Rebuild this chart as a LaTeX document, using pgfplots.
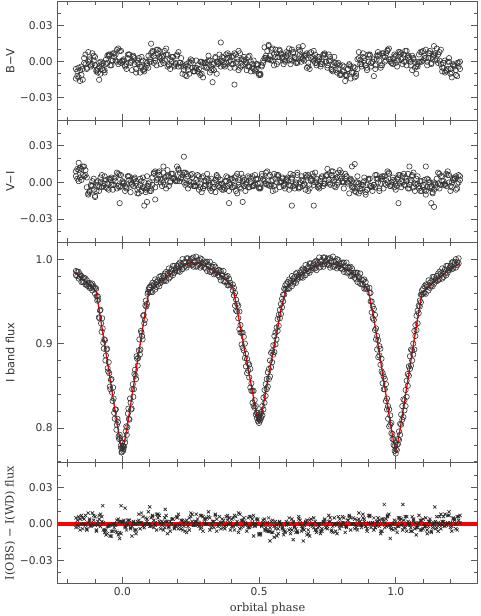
\documentclass[border=0pt]{standalone}
\usepackage{fontspec}
\setmainfont{DejaVu Sans}
\newfontfamily\serif{DejaVu Serif}
\usepackage{pgfplots}
\usepackage{pgfplotstable}
\pgfplotsset{compat=1.18}

% colour indices in units of 0.001 mag
\pgfplotstableread{
x xb a b c d
-0.17 -0.165 -6 -14 -8 -12
-0.16 -0.155 -13 -5 -16 -7
-0.15 -0.145 -4 -11 -6 -15
-0.14 -0.135 -1 3 -2 6
-0.13 -0.125 -5 -6 8 0
-0.12 -0.115 2 1 -4 -3
-0.11 -0.105 -2 7 1 5
-0.10 -0.095 4 -3 -7 -8
-0.09 -0.085 -9 -6 -1 -4
-0.08 -0.075 0 -10 -6 -2
-0.07 -0.065 -7 -1 -9 -7
-0.06 -0.055 -2 2 5 -1
-0.05 -0.045 5 6 -3 6
-0.04 -0.035 1 -3 7 1
-0.03 -0.025 7 4 1 6
-0.02 -0.015 0 10 11 -2
-0.01 -0.005 9 0 -1 9
0.00 0.005 0 1 2 1
0.01 0.015 -4 -3 -6 -2
0.02 0.025 3 6 6 6
0.03 0.035 -1 0 1 -7
0.04 0.045 5 4 -2 3
0.05 0.055 -6 -9 -1 1
0.06 0.065 3 -2 -9 -4
0.07 0.075 -4 4 1 -7
0.08 0.085 -8 -6 -5 0
0.09 0.095 -1 -3 5 -5
0.10 0.105 2 0 0 7
0.11 0.115 8 9 5 -1
0.12 0.125 1 3 -3 10
0.13 0.135 10 7 9 4
0.14 0.145 3 -2 4 1
0.15 0.155 -1 5 1 9
0.16 0.165 6 11 6 -4
0.17 0.175 -2 -3 -6 2
0.18 0.185 4 0 4 4
0.19 0.195 -3 -4 -2 -1
0.20 0.205 6 5 8 -4
0.21 0.215 -1 -1 -4 3
0.22 0.225 -10 -2 -4 -7
0.23 0.235 -3 -11 -12 -2
0.24 0.245 -7 -4 0 -10
0.25 0.255 -1 2 -5 1
0.26 0.265 -8 -8 -8 -5
0.27 0.275 1 -5 -3 -8
0.28 0.285 -6 -9 -11 0
0.29 0.295 -10 0 -1 -13
0.30 0.305 -1 -4 -5 -1
0.31 0.315 -5 0 5 1
0.32 0.325 1 -9 -7 -4
0.33 0.335 -6 -2 -2 -7
0.34 0.345 3 4 -10 0
0.35 0.355 0 -2 6 -1
0.36 0.365 -4 1 1 4
0.37 0.375 3 -3 -2 -4
0.38 0.385 -1 6 3 7
0.39 0.395 5 0 -5 1
0.40 0.405 -2 4 5 -2
0.41 0.415 7 -5 -1 6
0.42 0.425 0 2 9 -7
0.43 0.435 -5 7 -4 2
0.44 0.445 2 -3 1 4
0.45 0.455 -2 0 -7 -1
0.46 0.465 4 -4 5 -4
0.47 0.475 -8 0 -5 -2
0.48 0.485 1 -6 -8 -7
0.49 0.495 -6 -2 -3 -2
0.50 0.505 -10 -11 -11 -10
0.51 0.515 -3 -4 -1 1
0.52 0.525 3 12 3 5
0.53 0.535 9 2 13 2
0.54 0.545 2 5 1 10
0.55 0.555 11 1 6 -3
0.56 0.565 4 10 -2 7
0.57 0.575 0 4 10 9
0.58 0.585 6 7 4 3
0.59 0.595 2 -2 1 0
0.60 0.605 8 5 6 7
0.61 0.615 1 11 -2 2
0.62 0.625 10 1 8 7
0.63 0.635 3 4 2 -1
0.64 0.645 -1 0 12 10
0.65 0.655 6 9 0 4
0.66 0.665 2 3 5 1
0.67 0.675 6 5 -5 7
0.68 0.685 -1 -4 7 -6
0.69 0.695 8 3 2 4
0.70 0.705 1 9 -1 6
0.71 0.715 -3 -1 4 1
0.72 0.725 4 2 -4 -2
0.73 0.735 0 -2 6 5
0.74 0.745 6 7 0 0
0.75 0.755 -5 -3 6 1
0.76 0.765 4 1 -6 -7
0.77 0.775 -3 -8 -1 4
0.78 0.785 -7 -1 -9 -2
0.79 0.795 -6 -1 -3 -11
0.80 0.805 -10 -11 -8 -3
0.81 0.815 -4 -8 -11 -16
0.82 0.825 -11 -12 -6 -6
0.83 0.835 -2 -3 -14 -4
0.84 0.845 -9 -9 -4 -9
0.85 0.855 -13 -5 -10 -12
0.86 0.865 2 -6 8 3
0.87 0.875 -2 1 -4 -2
0.88 0.885 4 7 1 3
0.89 0.895 -3 -3 -7 -5
0.90 0.905 6 0 5 6
0.91 0.915 -1 -4 0 0
0.92 0.925 -12 2 -6 -3
0.93 0.935 5 2 5 8
0.94 0.945 1 6 -3 -5
0.95 0.955 7 -3 7 5
0.96 0.965 0 4 1 7
0.97 0.975 9 10 11 2
0.98 0.985 2 0 -1 -1
0.99 0.995 -2 3 4 6
1.00 1.005 5 -1 -4 1
1.01 1.015 1 8 8 6
1.02 1.025 7 2 3 -2
1.03 1.035 0 6 0 9
1.04 1.045 9 -3 5 3
1.05 1.055 2 4 -3 0
1.06 1.065 -7 5 2 3
1.07 1.075 0 -5 -4 -10
1.08 1.085 -4 -2 6 0
1.09 1.095 8 0 0 8
1.10 1.105 1 9 5 3
1.11 1.115 10 3 -3 0
1.12 1.125 3 7 9 7
1.13 1.135 -1 -2 4 2
1.14 1.145 6 5 1 7
1.15 1.155 2 11 6 -1
1.16 1.165 8 1 -2 10
1.17 1.175 -8 -5 -1 -5
1.18 1.185 1 -9 -7 -8
1.19 1.195 -6 0 3 0
1.20 1.205 -10 -6 -9 -13
1.21 1.215 -3 -2 -4 -3
1.22 1.225 -7 -11 -12 -1
1.23 1.235 -1 -4 0 -6
}\bv

\pgfplotstableread{
x xb a b c d
-0.17 -0.165 5 9 3 11
-0.16 -0.155 10 1 12 4
-0.15 -0.145 2 11 6 13
-0.14 -0.135 13 5 10 6
-0.13 -0.125 -4 4 -10 -9
-0.12 -0.115 -7 -8 -3 -2
-0.11 -0.105 1 -3 3 -6
-0.10 -0.095 -12 -11 -7 0
-0.09 -0.085 -2 1 -4 -7
-0.08 -0.075 4 0 -4 6
-0.07 -0.065 -1 -3 5 -1
-0.06 -0.055 -4 2 -1 -5
-0.05 -0.045 3 -6 3 2
-0.04 -0.035 -2 4 -6 -2
-0.03 -0.025 3 -2 1 4
-0.02 -0.015 -5 8 7 -3
-0.01 -0.005 6 -4 -3 6
0.00 0.005 0 1 0 -1
0.01 0.015 -3 -7 -4 -5
0.02 0.025 5 5 5 2
0.03 0.035 -8 0 -1 -2
0.04 0.045 2 -3 3 4
0.05 0.055 1 -1 -9 -6
0.06 0.065 -4 -9 -2 3
0.07 0.075 -7 1 4 -4
0.08 0.085 0 -5 -6 -8
0.09 0.095 -5 5 -3 -1
0.10 0.105 0 -7 -7 -5
0.11 0.115 -2 4 8 7
0.12 0.125 9 -4 2 0
0.13 0.135 3 8 6 9
0.14 0.145 0 3 -3 2
0.15 0.155 8 0 4 -2
0.16 0.165 -5 5 10 5
0.17 0.175 5 -3 0 1
0.18 0.185 7 7 3 7
0.19 0.195 4 3 1 2
0.20 0.205 1 13 10 11
0.21 0.215 8 1 4 4
0.22 0.225 3 6 8 0
0.23 0.235 8 -2 -1 7
0.24 0.245 -5 5 1 -2
0.25 0.255 6 0 7 4
0.26 0.265 0 -3 -3 -3
0.27 0.275 -3 2 0 6
0.28 0.285 5 -6 -4 -1
0.29 0.295 -8 4 5 -5
0.30 0.305 1 -3 -2 1
0.31 0.315 3 7 2 -3
0.32 0.325 -2 -5 -7 3
0.33 0.335 -5 0 0 -4
0.34 0.345 2 -8 6 5
0.35 0.355 -3 4 -4 -2
0.36 0.365 2 -1 -1 -6
0.37 0.375 -6 -4 -5 1
0.38 0.385 5 1 4 -3
0.39 0.395 -1 -7 -2 3
0.40 0.405 -4 3 2 -4
0.41 0.415 4 -3 -7 5
0.42 0.425 -9 7 0 -2
0.43 0.435 2 -4 7 -5
0.44 0.445 4 1 -3 2
0.45 0.455 -1 -7 0 -2
0.46 0.465 -4 5 -4 4
0.47 0.475 3 0 5 -3
0.48 0.485 -2 -3 -1 6
0.49 0.495 3 2 3 -1
0.50 0.505 -4 -5 -5 -4
0.51 0.515 7 5 2 3
0.52 0.525 1 -1 8 -1
0.53 0.535 -2 9 -2 5
0.54 0.545 6 -3 1 -2
0.55 0.555 -7 2 -3 7
0.56 0.565 3 -6 6 0
0.57 0.575 5 6 0 -4
0.58 0.585 0 1 4 3
0.59 0.595 -3 -2 -5 -1
0.60 0.605 3 2 1 4
0.61 0.615 -2 -6 7 -3
0.62 0.625 3 4 -3 6
0.63 0.635 -5 -2 0 -1
0.64 0.645 6 8 -4 -5
0.65 0.655 0 -4 5 2
0.66 0.665 -3 1 -1 -2
0.67 0.675 6 -6 4 5
0.68 0.685 -7 6 -5 -2
0.69 0.695 3 1 2 7
0.70 0.705 5 -2 8 0
0.71 0.715 0 3 -2 -4
0.72 0.725 -3 -5 1 3
0.73 0.735 4 5 -3 -1
0.74 0.745 -1 -1 6 5
0.75 0.755 6 11 2 0
0.76 0.765 -2 -1 6 9
0.77 0.775 9 4 -3 2
0.78 0.785 3 -4 4 -2
0.79 0.795 0 8 10 5
0.80 0.805 8 3 0 1
0.81 0.815 -5 0 3 7
0.82 0.825 5 5 -1 0
0.83 0.835 1 -9 2 3
0.84 0.845 -4 1 -4 -4
0.85 0.855 -7 -5 0 -8
0.86 0.865 0 5 -9 -1
0.87 0.875 -5 -7 -2 -5
0.88 0.885 0 -2 4 1
0.89 0.895 -8 -10 -6 -6
0.90 0.905 3 2 -3 3
0.91 0.915 -3 -3 -7 -4
0.92 0.925 -2 -2 6 -4
0.93 0.935 6 3 0 3
0.94 0.945 -7 -5 4 -1
0.95 0.955 3 5 -5 5
0.96 0.965 5 -1 2 -2
0.97 0.975 0 9 8 7
0.98 0.985 -3 -3 -2 0
0.99 0.995 4 2 1 -4
1.00 1.005 -1 -6 -3 3
1.01 1.015 4 6 6 -1
1.02 1.025 -4 1 0 5
1.03 1.035 7 -2 4 -2
1.04 1.045 1 3 -5 7
1.05 1.055 -2 -5 2 0
1.06 1.065 6 5 8 -4
1.07 1.075 -7 -1 -2 3
1.08 1.085 -1 5 -3 -5
1.09 1.095 1 -7 -7 1
1.10 1.105 -4 -2 2 -6
1.11 1.115 -7 -10 -4 3
1.12 1.125 0 2 0 -4
1.13 1.135 -5 -3 -9 -8
1.14 1.145 0 -6 -2 -1
1.15 1.155 -4 3 8 -1
1.16 1.165 7 -5 -2 5
1.17 1.175 1 5 1 -2
1.18 1.185 -2 -1 -3 7
1.19 1.195 6 9 6 0
1.20 1.205 -7 -3 0 -4
1.21 1.215 3 2 4 3
1.22 1.225 5 -6 -5 -1
1.23 1.235 0 6 2 5
}\vi

\pgfplotstableread{
x xb a b c d
-0.17 -0.165 -3 5 -1 3
-0.16 -0.155 6 -2 4 -5
-0.15 -0.145 0 7 -4 5
-0.14 -0.135 4 0 7 -1
-0.13 -0.125 -5 -4 1 9
-0.12 -0.115 3 4 -1 -2
-0.11 -0.105 9 0 7 3
-0.10 -0.095 -1 6 -6 -5
-0.09 -0.085 2 -1 4 7
-0.08 -0.075 -2 8 6 2
-0.07 -0.065 1 -5 -5 -7
-0.06 -0.055 -5 -9 -8 -2
-0.05 -0.045 -1 -2 -1 -10
-0.04 -0.035 -10 -6 -6 0
-0.03 -0.025 -3 0 -1 -6
-0.02 -0.015 3 -7 -9 4
-0.01 -0.005 -7 2 2 -8
0.00 0.005 2 1 2 3
0.01 0.015 -2 -3 -1 -5
0.02 0.025 3 0 3 3
0.03 0.035 -3 -4 -10 -2
0.04 0.045 1 2 0 -5
0.05 0.055 -8 -5 2 0
0.06 0.065 3 8 1 -4
0.07 0.075 9 1 -2 6
0.08 0.085 -1 -3 5 0
0.09 0.095 2 4 0 10
0.10 0.105 -2 0 5 -2
0.11 0.115 7 6 -3 3
0.12 0.125 1 -1 8 -5
0.13 0.135 5 8 2 7
0.14 0.145 -4 1 -1 2
0.15 0.155 1 -5 5 -3
0.16 0.165 7 2 -8 2
0.17 0.175 -3 -2 2 -6
0.18 0.185 0 4 4 4
0.19 0.195 -4 -3 -1 -2
0.20 0.205 5 6 -4 8
0.21 0.215 -1 -1 3 -4
0.22 0.225 3 -5 -2 1
0.23 0.235 -6 2 3 -7
0.24 0.245 1 -2 -5 5
0.25 0.255 9 6 8 2
0.26 0.265 -1 -1 2 -1
0.27 0.275 2 8 -1 4
0.28 0.285 -2 1 7 -4
0.29 0.295 7 -3 -6 6
0.30 0.305 1 4 4 0
0.31 0.315 5 0 6 10
0.32 0.325 -5 5 0 -3
0.33 0.335 2 -2 -3 2
0.34 0.345 8 7 4 -6
0.35 0.355 -2 0 -1 6
0.36 0.365 1 -4 4 1
0.37 0.375 -3 3 -4 -2
0.38 0.385 6 -1 7 3
0.39 0.395 0 5 1 -5
0.40 0.405 4 -2 -2 5
0.41 0.415 -5 7 6 -1
0.42 0.425 2 0 -7 9
0.43 0.435 8 -4 3 -3
0.44 0.445 -2 3 5 2
0.45 0.455 1 -1 0 -6
0.46 0.465 -3 5 -3 6
0.47 0.475 6 -2 4 1
0.48 0.485 0 7 -1 -2
0.49 0.495 4 0 4 3
0.50 0.505 -9 -8 -8 -9
0.51 0.515 -2 -1 3 1
0.52 0.525 4 -5 -3 -5
0.53 0.535 -6 1 -6 5
0.54 0.545 -3 -6 2 -7
0.55 0.555 -7 3 -11 -2
0.56 0.565 2 -4 -1 -10
0.57 0.575 -4 -8 1 2
0.58 0.585 0 -1 -4 -3
0.59 0.595 -9 -5 -7 -6
0.60 0.605 -1 2 1 0
0.61 0.615 5 -5 -4 -8
0.62 0.625 -5 4 1 2
0.63 0.635 -2 -3 -7 -4
0.64 0.645 -6 -7 4 6
0.65 0.655 3 0 -2 -6
0.66 0.665 -3 -4 -5 -1
0.67 0.675 1 2 3 -9
0.68 0.685 -8 -5 -10 3
0.69 0.695 -1 4 0 -2
0.70 0.705 5 -3 2 -5
0.71 0.715 -5 -7 -3 0
0.72 0.725 -2 0 -6 -8
0.73 0.735 -6 -4 1 2
0.74 0.745 4 3 -3 -3
0.75 0.755 -2 -4 2 7
0.76 0.765 2 5 -6 -5
0.77 0.775 -7 -2 5 0
0.78 0.785 0 -6 -1 -8
0.79 0.795 6 1 -4 4
0.80 0.805 -2 -1 6 1
0.81 0.815 1 5 -7 -2
0.82 0.825 -3 -2 3 3
0.83 0.835 6 7 5 -5
0.84 0.845 0 0 0 5
0.85 0.855 4 -4 -3 -1
0.86 0.865 -5 3 4 9
0.87 0.875 2 -1 -1 -3
0.88 0.885 8 5 4 2
0.89 0.895 -2 -2 -4 -6
0.90 0.905 1 7 7 6
0.91 0.915 -3 0 1 1
0.92 0.925 5 -5 -3 -3
0.93 0.935 -1 2 5 2
0.94 0.945 3 -2 -8 -6
0.95 0.955 -6 4 2 4
0.96 0.965 1 -3 4 -2
0.97 0.975 7 6 -1 8
0.98 0.985 -3 -1 -4 -4
0.99 0.995 0 -5 3 1
1.00 1.005 -4 2 -2 -7
1.01 1.015 5 -2 3 5
1.02 1.025 -1 4 -5 0
1.03 1.035 3 -3 6 -3
1.04 1.045 -6 6 0 2
1.05 1.055 1 -1 -3 -6
1.06 1.065 6 -6 4 3
1.07 1.075 -4 1 -9 -3
1.08 1.085 -1 -3 1 7
1.09 1.095 -5 3 3 -5
1.10 1.105 4 -4 -2 0
1.11 1.115 -2 5 -5 -8
1.12 1.125 2 -2 2 4
1.13 1.135 -7 -6 -3 -1
1.14 1.145 0 1 2 -4
1.15 1.155 6 -3 -6 1
1.16 1.165 -1 6 8 -4
1.17 1.175 2 -1 2 6
1.18 1.185 -2 8 -1 0
1.19 1.195 7 1 7 10
1.20 1.205 1 -3 -6 -2
1.21 1.215 5 4 4 3
1.22 1.225 -4 0 6 -5
1.23 1.235 3 6 1 7
}\res

% I band flux
\pgfplotstableread{
x a xb b
-0.170 0.986 -0.170 0.981
-0.165 0.980 -0.165 0.985
-0.160 0.985 -0.160 0.977
-0.155 0.979 -0.155 0.982
-0.150 0.973 -0.150 0.980
-0.145 0.978 -0.145 0.973
-0.140 0.973 -0.140 0.978
-0.135 0.977 -0.135 0.970
-0.130 0.969 -0.130 0.975
-0.125 0.971 -0.125 0.968
-0.120 0.972 -0.120 0.966
-0.115 0.966 -0.115 0.970
-0.110 0.971 -0.110 0.963
-0.105 0.965 -0.105 0.968
-0.100 0.959 -0.100 0.966
-0.096 0.965 -0.094 0.956
-0.092 0.951 -0.090 0.956
-0.088 0.952 -0.086 0.931
-0.084 0.930 -0.082 0.939
-0.080 0.940 -0.078 0.924
-0.076 0.914 -0.074 0.930
-0.072 0.918 -0.070 0.901
-0.068 0.894 -0.066 0.905
-0.064 0.904 -0.062 0.880
-0.060 0.886 -0.058 0.893
-0.056 0.894 -0.054 0.871
-0.052 0.867 -0.050 0.878
-0.048 0.865 -0.046 0.849
-0.044 0.846 -0.042 0.857
-0.040 0.858 -0.038 0.842
-0.036 0.832 -0.034 0.848
-0.032 0.835 -0.030 0.818
-0.028 0.811 -0.026 0.822
-0.024 0.822 -0.022 0.798
-0.020 0.804 -0.018 0.811
-0.016 0.807 -0.014 0.790
-0.012 0.787 -0.010 0.792
-0.008 0.788 -0.006 0.779
-0.004 0.776 -0.002 0.772
0.000 0.776 0.002 0.779
0.004 0.775 0.006 0.778
0.008 0.787 0.010 0.783
0.012 0.796 0.014 0.802
0.016 0.792 0.018 0.801
0.020 0.817 0.022 0.823
0.024 0.811 0.026 0.810
0.028 0.835 0.030 0.830
0.032 0.822 0.034 0.823
0.036 0.846 0.038 0.852
0.040 0.837 0.042 0.846
0.044 0.864 0.046 0.869
0.048 0.862 0.050 0.858
0.052 0.885 0.054 0.882
0.056 0.874 0.058 0.883
0.060 0.892 0.062 0.905
0.064 0.887 0.066 0.893
0.068 0.915 0.070 0.913
0.072 0.909 0.074 0.905
0.076 0.933 0.078 0.934
0.080 0.924 0.082 0.928
0.084 0.945 0.086 0.951
0.088 0.944 0.090 0.947
0.092 0.959 0.094 0.961
0.096 0.964 0.098 0.966
-0.001 0.783 0.001 0.779
-0.003 0.771 0.003 0.773
0.100 0.967 0.100 0.961
0.105 0.961 0.105 0.969
0.110 0.972 0.110 0.961
0.115 0.968 0.115 0.970
0.120 0.964 0.120 0.976
0.125 0.973 0.125 0.967
0.130 0.970 0.130 0.975
0.135 0.979 0.135 0.968
0.140 0.972 0.140 0.980
0.145 0.977 0.145 0.975
0.150 0.980 0.150 0.974
0.155 0.975 0.155 0.983
0.160 0.985 0.160 0.974
0.165 0.981 0.165 0.983
0.170 0.977 0.170 0.989
0.175 0.985 0.175 0.979
0.180 0.983 0.180 0.988
0.185 0.992 0.185 0.981
0.190 0.984 0.190 0.992
0.195 0.989 0.195 0.987
0.200 0.992 0.200 0.986
0.205 0.986 0.205 0.994
0.210 0.996 0.210 0.985
0.215 0.992 0.215 0.994
0.220 0.988 0.220 1.000
0.225 0.996 0.225 0.990
0.230 0.992 0.230 0.997
0.235 1.001 0.235 0.990
0.240 0.993 0.240 1.001
0.245 0.997 0.245 0.995
0.250 1.000 0.250 0.994
0.255 0.993 0.255 1.001
0.260 1.002 0.260 0.991
0.265 0.996 0.265 0.998
0.270 0.991 0.270 1.003
0.275 0.998 0.275 0.992
0.280 0.994 0.280 0.999
0.285 1.001 0.285 0.990
0.290 0.992 0.290 1.000
0.295 0.995 0.295 0.993
0.300 0.996 0.300 0.990
0.305 0.989 0.305 0.997
0.310 0.997 0.310 0.986
0.315 0.991 0.315 0.993
0.320 0.985 0.320 0.997
0.325 0.991 0.325 0.985
0.330 0.986 0.330 0.991
0.335 0.993 0.335 0.982
0.340 0.983 0.340 0.991
0.345 0.986 0.345 0.984
0.350 0.987 0.350 0.981
0.355 0.979 0.355 0.987
0.360 0.986 0.360 0.975
0.365 0.980 0.365 0.982
0.370 0.974 0.370 0.986
0.375 0.979 0.375 0.973
0.380 0.974 0.380 0.979
0.385 0.980 0.385 0.969
0.390 0.969 0.390 0.977
0.395 0.972 0.395 0.970
0.404 0.970 0.404 0.963
0.408 0.957 0.408 0.966
0.412 0.960 0.412 0.945
0.416 0.939 0.416 0.952
0.420 0.947 0.420 0.938
0.424 0.930 0.424 0.945
0.428 0.938 0.428 0.917
0.432 0.913 0.432 0.922
0.436 0.913 0.436 0.899
0.440 0.895 0.440 0.913
0.444 0.908 0.444 0.892
0.448 0.883 0.448 0.900
0.452 0.888 0.452 0.873
0.456 0.865 0.456 0.882
0.460 0.877 0.460 0.868
0.464 0.860 0.464 0.875
0.468 0.870 0.468 0.848
0.472 0.844 0.472 0.853
0.476 0.844 0.476 0.830
0.480 0.826 0.480 0.844
0.484 0.833 0.484 0.824
0.488 0.816 0.488 0.826
0.492 0.818 0.492 0.812
0.496 0.808 0.496 0.815
0.500 0.810 0.500 0.806
0.504 0.809 0.504 0.816
0.508 0.819 0.508 0.812
0.512 0.815 0.512 0.826
0.516 0.836 0.516 0.822
0.520 0.830 0.520 0.845
0.524 0.852 0.524 0.838
0.528 0.846 0.528 0.858
0.532 0.866 0.532 0.849
0.536 0.858 0.536 0.870
0.540 0.880 0.540 0.861
0.544 0.872 0.544 0.889
0.548 0.891 0.548 0.878
0.552 0.887 0.552 0.898
0.556 0.909 0.556 0.890
0.560 0.899 0.560 0.913
0.564 0.919 0.564 0.905
0.568 0.915 0.568 0.929
0.572 0.934 0.572 0.921
0.576 0.930 0.576 0.940
0.580 0.947 0.580 0.935
0.584 0.943 0.584 0.953
0.588 0.958 0.588 0.950
0.592 0.958 0.592 0.965
0.596 0.969 0.596 0.964
0.498 0.813 0.502 0.812
0.494 0.818 0.506 0.817
0.600 0.971 0.600 0.965
0.605 0.965 0.605 0.973
0.610 0.976 0.610 0.965
0.615 0.972 0.615 0.974
0.620 0.968 0.620 0.980
0.625 0.977 0.625 0.971
0.630 0.974 0.630 0.979
0.635 0.983 0.635 0.972
0.640 0.976 0.640 0.984
0.645 0.981 0.645 0.979
0.650 0.984 0.650 0.978
0.655 0.979 0.655 0.987
0.660 0.989 0.660 0.978
0.665 0.985 0.665 0.987
0.670 0.981 0.670 0.993
0.675 0.989 0.675 0.983
0.680 0.986 0.680 0.991
0.685 0.995 0.685 0.984
0.690 0.987 0.690 0.995
0.695 0.992 0.695 0.990
0.700 0.995 0.700 0.989
0.705 0.989 0.705 0.997
0.710 0.998 0.710 0.987
0.715 0.994 0.715 0.996
0.720 0.990 0.720 1.002
0.725 0.997 0.725 0.991
0.730 0.994 0.730 0.999
0.735 1.002 0.735 0.991
0.740 0.994 0.740 1.002
0.745 0.998 0.745 0.996
0.750 1.000 0.750 0.994
0.755 0.993 0.755 1.001
0.760 1.001 0.760 0.990
0.765 0.996 0.765 0.998
0.770 0.991 0.770 1.003
0.775 0.997 0.775 0.991
0.780 0.993 0.780 0.998
0.785 1.000 0.785 0.989
0.790 0.991 0.790 0.999
0.795 0.994 0.795 0.992
0.800 0.995 0.800 0.989
0.805 0.988 0.805 0.996
0.810 0.996 0.810 0.985
0.815 0.990 0.815 0.992
0.820 0.984 0.820 0.996
0.825 0.990 0.825 0.984
0.830 0.985 0.830 0.990
0.835 0.991 0.835 0.980
0.840 0.981 0.840 0.989
0.845 0.984 0.845 0.982
0.850 0.984 0.850 0.978
0.855 0.976 0.855 0.984
0.860 0.984 0.860 0.973
0.865 0.977 0.865 0.979
0.870 0.971 0.870 0.983
0.875 0.976 0.875 0.970
0.880 0.970 0.880 0.975
0.885 0.976 0.885 0.965
0.890 0.965 0.890 0.973
0.895 0.967 0.895 0.965
0.904 0.960 0.904 0.966
0.908 0.960 0.908 0.950
0.912 0.937 0.912 0.950
0.916 0.944 0.916 0.930
0.920 0.928 0.920 0.941
0.924 0.934 0.924 0.916
0.928 0.905 0.928 0.918
0.932 0.909 0.932 0.893
0.936 0.884 0.936 0.904
0.940 0.897 0.940 0.886
0.944 0.875 0.944 0.894
0.948 0.882 0.948 0.867
0.952 0.853 0.952 0.865
0.956 0.861 0.956 0.846
0.960 0.846 0.960 0.858
0.964 0.852 0.964 0.832
0.968 0.822 0.968 0.835
0.972 0.826 0.972 0.811
0.976 0.802 0.976 0.822
0.980 0.815 0.980 0.804
0.984 0.794 0.984 0.806
0.988 0.793 0.988 0.787
0.992 0.780 0.992 0.787
0.996 0.773 0.996 0.779
1.000 0.770 1.000 0.775
1.004 0.780 1.004 0.774
1.008 0.781 1.008 0.787
1.012 0.786 1.012 0.796
1.016 0.805 1.016 0.792
1.020 0.804 1.020 0.816
1.024 0.826 1.024 0.810
1.028 0.813 1.028 0.834
1.032 0.833 1.032 0.821
1.036 0.826 1.036 0.845
1.040 0.856 1.040 0.837
1.044 0.850 1.044 0.864
1.048 0.873 1.048 0.862
1.052 0.870 1.052 0.885
1.056 0.893 1.056 0.874
1.060 0.880 1.060 0.892
1.064 0.900 1.064 0.887
1.068 0.893 1.068 0.915
1.072 0.922 1.072 0.909
1.076 0.916 1.076 0.933
1.080 0.939 1.080 0.924
1.084 0.936 1.084 0.945
1.088 0.951 1.088 0.944
1.092 0.949 1.092 0.958
1.096 0.963 1.096 0.958
1.100 0.965 1.100 0.959
1.105 0.960 1.105 0.968
1.110 0.970 1.110 0.959
1.115 0.967 1.115 0.969
1.120 0.963 1.120 0.975
1.125 0.972 1.125 0.966
1.130 0.969 1.130 0.974
1.135 0.979 1.135 0.968
1.140 0.971 1.140 0.979
1.145 0.977 1.145 0.975
1.150 0.980 1.150 0.974
1.155 0.975 1.155 0.983
1.160 0.985 1.160 0.976
1.165 0.981 1.165 0.983
1.170 0.977 1.170 0.989
1.175 0.985 1.175 0.979
1.180 0.983 1.180 0.988
1.185 0.992 1.185 0.981
1.190 0.984 1.190 0.992
1.195 0.989 1.195 0.987
1.200 0.992 1.200 0.990
1.205 0.988 1.205 0.996
1.210 0.997 1.210 0.989
1.215 0.994 1.215 0.996
1.220 0.990 1.220 1.000
1.225 0.997 1.225 0.993
1.230 0.995 1.230 1.001
}\flux

\pgfplotsset{
  panel/.style={
    scale only axis, width=315.3pt,
    xmin=-0.238, xmax=1.30,
    xtick={0,0.5,1}, xticklabels={},
    minor xtick={-0.2,-0.1,0.1,0.2,0.3,0.4,0.6,0.7,0.8,0.9,1.1,1.2},
    tick align=inside, major tick length=5pt, minor tick length=3pt,
    axis line style={black!65, line width=0.5pt},
    tick style={black!65, line width=0.5pt},
    tick label style={font=\fontsize{8}{9}\selectfont, text=black!80},
    label style={font=\fontsize{8.5}{10}\selectfont, text=black!80},
    ylabel style={at={(axis description cs:-0.112,0.5)}, anchor=center},
  },
  small/.style={
    ymin=-49, ymax=50.5,
    ytick={-30,0,30}, yticklabels={−0.03,0.00,0.03},
    minor ytick={-40,-20,-10,10,20,40},
  },
  circ/.style={only marks, mark=o, mark size=2pt,
    mark options={draw=black!80, line width=0.45pt}},
  crs/.style={only marks, mark=x, mark size=1.7pt,
    mark options={draw=black!85, line width=0.5pt}},
}

\begin{document}
\begin{tikzpicture}
\useasboundingbox (0,0) rectangle (360pt,-462pt);

\begin{axis}[panel, small, at={(43pt,-0.75pt)}, anchor=north west,
  height=89.75pt, ylabel={B−V}]
\addplot[circ] table[x=x, y=a] {\bv};
\addplot[circ] table[x=x, y=b] {\bv};
\addplot[circ] table[x=xb, y=c] {\bv};
\addplot[circ] table[x=xb, y=d] {\bv};
\addplot[circ] coordinates {(-0.085,-15) (0.105,15) (0.33,-17) (0.36,16)
  (0.41,-19) (0.535,14) (0.66,13) (1.14,13)};
\end{axis}

\begin{axis}[panel, small, at={(43pt,-90.5pt)}, anchor=north west,
  height=91.2pt, ylabel={V−I}]
\addplot[circ] table[x=x, y=a] {\vi};
\addplot[circ] table[x=x, y=b] {\vi};
\addplot[circ] table[x=xb, y=c] {\vi};
\addplot[circ] table[x=xb, y=d] {\vi};
\addplot[circ] coordinates {(-0.01,-17) (0.08,-19) (0.09,-16) (0.225,21)
  (0.39,-17) (0.44,-16) (0.62,-19) (0.70,-19) (0.85,15) (0.84,13)
  (1.01,-17) (1.14,-20) (1.13,-17) (1.05,13) (1.11,13) (-0.16,16)
  (0.15,13) (0.12,-14)};
\end{axis}

\begin{axis}[panel, at={(43pt,-181.7pt)}, anchor=north west,
  height=165.3pt, ymin=0.759, ymax=1.020,
  ytick={0.8,0.9,1.0}, yticklabels={0.8,0.9,1.0},
  minor ytick={0.76,0.78,0.82,0.84,0.86,0.88,0.92,0.94,0.96,0.98},
  ylabel={I band flux}]
\addplot[circ] table[x=x, y=a] {\flux};
\addplot[circ] table[x=xb, y=b] {\flux};
\addplot[red, line width=1pt] coordinates {
  (-0.176,0.985) (-0.15,0.977) (-0.12,0.969) (-0.096,0.962) (-0.08,0.930)
  (-0.06,0.889) (-0.04,0.848) (-0.025,0.817) (-0.015,0.797) (-0.008,0.784)
  (0,0.774) (0.008,0.784) (0.015,0.797) (0.025,0.817) (0.04,0.848)
  (0.06,0.889) (0.08,0.930) (0.097,0.962) (0.13,0.971) (0.16,0.979)
  (0.19,0.986) (0.22,0.992) (0.25,0.996) (0.28,0.995) (0.31,0.991)
  (0.34,0.985) (0.37,0.978) (0.404,0.967) (0.42,0.940) (0.44,0.905)
  (0.46,0.870) (0.475,0.845) (0.485,0.826) (0.493,0.814) (0.5,0.807)
  (0.507,0.814) (0.515,0.826) (0.525,0.845) (0.54,0.870) (0.56,0.905)
  (0.58,0.940) (0.6,0.967) (0.63,0.975) (0.66,0.983) (0.69,0.989)
  (0.72,0.994) (0.75,0.996) (0.78,0.994) (0.81,0.990) (0.84,0.983)
  (0.87,0.975) (0.9,0.963) (0.92,0.930) (0.94,0.889) (0.96,0.848)
  (0.975,0.817) (0.985,0.797) (0.992,0.784) (1.0,0.772) (1.008,0.784)
  (1.015,0.797) (1.025,0.817) (1.04,0.848) (1.06,0.889) (1.08,0.930)
  (1.097,0.961) (1.13,0.970) (1.16,0.979) (1.19,0.986) (1.21,0.990)
  (1.234,0.995)};
\end{axis}

\begin{axis}[panel, small, at={(43pt,-347pt)}, anchor=north west,
  height=90.5pt, xticklabels={0.0,0.5,1.0},
  ylabel={\serif I(OBS) − I(WD) flux},
  xlabel={\serif orbital phase},
  xlabel style={at={(axis description cs:0.5,-0.207)}, anchor=center}]
\addplot[crs] table[x=x, y=a] {\res};
\addplot[crs] table[x=x, y=b] {\res};
\addplot[crs] table[x=xb, y=c] {\res};
\addplot[crs] table[x=xb, y=d] {\res};
\addplot[crs] coordinates {(-0.072,15) (-0.005,15) (0.01,13) (-0.01,-12)
  (0.10,14) (0.157,12) (0.48,-10) (0.54,-14) (0.625,-13) (0.662,-14)
  (0.958,16) (0.98,-12) (1.026,16) (1.143,14)};
\addplot[red, line width=2.4pt] coordinates {(-0.238,0) (1.30,0)};
\end{axis}
\end{tikzpicture}
\end{document}
